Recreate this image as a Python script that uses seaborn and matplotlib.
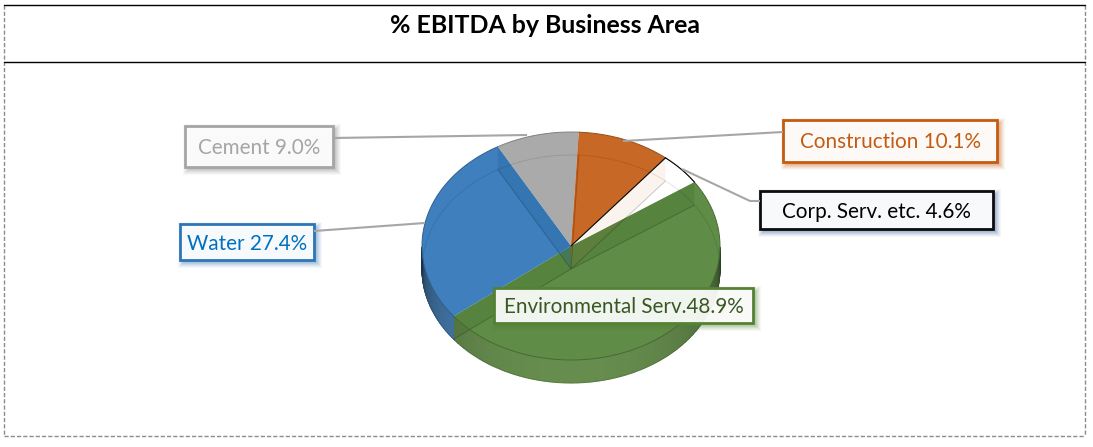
import numpy as np
import matplotlib
matplotlib.use("Agg")
import matplotlib.pyplot as plt
from matplotlib.colors import LinearSegmentedColormap
from matplotlib.patches import Rectangle, Polygon
import seaborn as sns

areas = ["Construction", "Corp. Serv. etc.", "Environmental Serv.", "Water", "Cement"]
shares = [10.1, 4.6, 48.9, 27.4, 9.0]
box_texts = ["Construction 10.1%", "Corp. Serv. etc. 4.6%", "Environmental Serv.48.9%",
             "Water 27.4%", "Cement 9.0%"]
title = "% EBITDA by Business Area"

face_colors = ["#c76826", "#ffffff", "#5f8c46", "#3f7fbd", "#aaaaaa"]
rim_colors = ["#c76826", "#ffffff", "#668d4e", "#4a82b8", "#aaaaaa"]
wall_colors = ["#c55a11", "#c55a11", "#3f6a2a", "#1f5f9a", "#aaaaaa"]
text_colors = ["#c55a11", "#000000", "#385723", "#0070c0", "#a5a5a5"]
line_colors = ["#c55a11", "#0c0c0c", "#548235", "#2e75b6", "#a5a5a5"]
shadow_colors = ["#c55a11", "#2f5597", "#548235", "#2e75b6", "#7f7f7f"]

# box layout in pixels: x0, x1, y0, y1
boxes = [(783, 997, 120, 162), (760, 993, 191, 229), (494, 753, 288, 323),
         (180, 314, 224, 260), (185, 333, 126, 167)]

fig_w, fig_h = 1093, 447
cx, cy, rx, ry, depth_px = 571, 246, 149, 114, 23
depth = depth_px / ry
start_angle = 87

sns.set_theme(style="white")
plt.rcParams["font.family"] = ["Lato", "DejaVu Sans"]

fig = plt.figure(figsize=(fig_w / 100, fig_h / 100), dpi=100, facecolor="white")
ax = fig.add_axes([0, 0, 1, 1])

# wedge boundaries, clockwise from the start angle
edges = start_angle - np.concatenate([[0], np.cumsum(shares)]) * 3.6

# rim below the front of the pie, darker towards the sides
for i in range(len(shares)):
    t = np.radians(np.linspace(edges[i], edges[i + 1], 200))
    t = t[np.sin(t) <= 0]
    if len(t) < 2:
        continue
    shade = 0.3 + 0.7 * np.abs(np.sin(t)) ** 0.45
    cmap = LinearSegmentedColormap.from_list("rim", ["black", rim_colors[i]])
    X = np.vstack([np.cos(t), np.cos(t)])
    Y = np.vstack([np.sin(t), np.sin(t) - depth])
    ax.pcolormesh(X, Y, np.vstack([shade, shade]), shading="gouraud", cmap=cmap, vmin=0, vmax=1)

# top face
ax.pie(shares, colors=face_colors, startangle=start_angle, counterclock=False,
       radius=1, wedgeprops=dict(linewidth=0))

# radial walls seen through the glass
wall_alpha = [0.6, 0.07, 0.25, 0.25, 0.3]
wall_use = [0, 1, 2, 2, 3]
for k in range(5):
    u = wall_use[k]
    r = np.radians(edges[k])
    px, py = np.cos(r), np.sin(r)
    ax.add_patch(Polygon([(0, 0), (px, py), (px, py - depth), (0, -depth)],
                         closed=True, facecolor=wall_colors[u], alpha=wall_alpha[k], lw=0))

# floor of the pie seen through the top face
ax.pie(shares, colors=["none"] * 5, startangle=start_angle, counterclock=False,
       radius=1, center=(0, -depth),
       wedgeprops=dict(linewidth=0.7, edgecolor=(0, 0, 0, 0.10)))

# outline of the top face
for i in range(len(shares)):
    t = np.radians(np.linspace(edges[i], edges[i + 1], 200))
    dark = np.array(matplotlib.colors.to_rgb(face_colors[i])) * 0.75
    ax.plot(np.cos(t), np.sin(t), color=dark, lw=0.7)

# black outline on the small white wedge
t = np.radians(np.linspace(edges[1], edges[2], 50))
r = np.radians(edges[1])
ax.plot(np.cos(t), np.sin(t), color="black", lw=0.8)
ax.plot([0, np.cos(r)], [0, np.sin(r)], color="black", lw=0.8)

ax.set_aspect("auto")
ax.set_xlim(-cx / rx, (fig_w - cx) / rx)
ax.set_ylim((cy - fig_h) / ry, cy / ry)
ax.set_axis_off()

# overlay in pixel coordinates for the frame, leader lines and text boxes
over = fig.add_axes([0, 0, 1, 1], zorder=5)
over.set_xlim(0, fig_w)
over.set_ylim(fig_h, 0)
over.set_axis_off()
over.patch.set_alpha(0)

dash = (0, (3, 1.5))
over.plot([4.3, 4.3], [5, 436], color="#8c8c8c", lw=1, ls=dash)
over.plot([1085, 1085], [5, 436], color="#8c8c8c", lw=1, ls=dash)
over.plot([4.3, 1085], [436, 436], color="#8c8c8c", lw=1, ls=dash)
over.plot([4.3, 1085], [5, 5], color="black", lw=1)
over.plot([4.3, 1085], [62, 62], color="black", lw=1)

over.text(545, 25.5, title, ha="center", va="center", fontsize=17.9, fontweight="bold", color="black")

leaders = [([783, 623], [132, 141]), ([760, 750, 682], [201, 201, 169]),
           ([314, 425], [231, 223]), ([333, 527], [138, 135])]
for xs, ys in leaders:
    over.plot(xs, ys, color="#a6a6a6", lw=1.5, solid_capstyle="butt")

for i in range(len(shares)):
    x0, x1, y0, y1 = boxes[i]
    # soft offset shadow built from stacked translucent rectangles
    for grow, a in zip([5, 4, 3, 2, 1, 0], [0.05, 0.06, 0.08, 0.09, 0.10, 0.12]):
        over.add_patch(Rectangle((x0 + 3 - grow, y0 + 3 - grow), x1 - x0 + 2 * grow,
                                 y1 - y0 + 2 * grow, facecolor=shadow_colors[i],
                                 alpha=a, lw=0))
    over.add_patch(Rectangle((x0, y0), x1 - x0, y1 - y0, facecolor=(1, 1, 1, 0.92),
                             edgecolor=line_colors[i], lw=2.0))
    over.text((x0 + x1) / 2, (y0 + y1) / 2 + 1.5, box_texts[i], ha="center", va="center",
              fontsize=14.9, color=text_colors[i])

fig.savefig("out.png", dpi=100)
